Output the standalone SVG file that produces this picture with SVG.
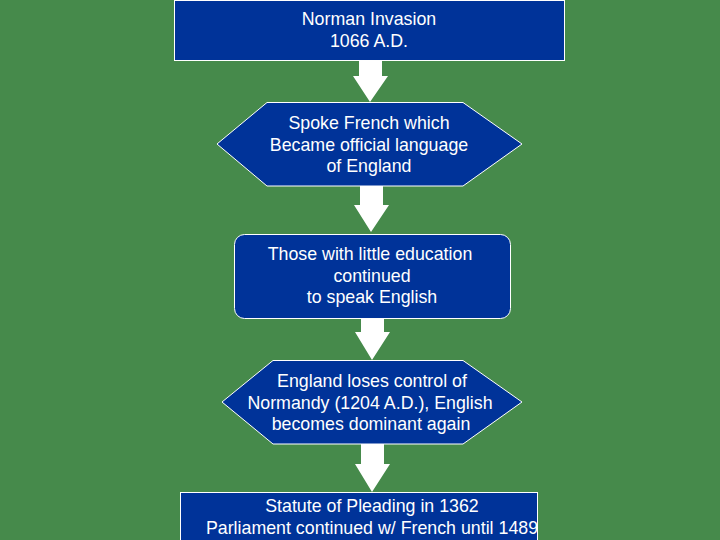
<svg xmlns="http://www.w3.org/2000/svg" width="720" height="540" viewBox="0 0 720 540">
<style>
.n{fill:#003399;stroke:#fff;stroke-width:1}
.t{font-family:"Liberation Sans",Arial,sans-serif;font-size:17.8px;fill:#fff;text-anchor:middle}
.a{fill:#fff}
</style>
<rect width="720" height="540" fill="#468A4B"/>
<g id="connectors">
<polygon class="a" points="359,60 382,60 382,76 388,76 370,102 353,76 359,76"/>
<polygon class="a" points="360,186 383,186 383,205 389,205 371,232 354,205 360,205"/>
<polygon class="a" points="361,318 384,318 384,332 390,332 372,360 355,332 361,332"/>
<polygon class="a" points="361,444 384,444 384,464 390,464 372,492 355,464 361,464"/>
</g>
<g id="n1"><rect class="n" x="174.5" y="0.5" width="390" height="60"/>
<text class="t" x="369" y="25">Norman Invasion</text><text class="t" x="369" y="47">1066 A.D.</text></g>
<g id="n2"><polygon class="n" points="267,102.5 463,102.5 522,144 463,186 267,186 217,144"/>
<text class="t" x="369" y="129">Spoke French which</text><text class="t" x="369" y="151">Became official language</text><text class="t" x="369" y="172">of England</text></g>
<g id="n3"><rect class="n" x="234.5" y="234.5" width="276" height="84" rx="10"/>
<text class="t" x="370" y="260">Those with little education</text><text class="t" x="372" y="282">continued</text><text class="t" x="372" y="303">to speak English</text></g>
<g id="n4"><polygon class="n" points="273,360.5 463,360.5 522,402 463,444 273,444 222,402"/>
<text class="t" x="372" y="387">England loses control of</text><text class="t" x="370" y="409">Normandy (1204 A.D.), English</text><text class="t" x="371" y="430">becomes dominant again</text></g>
<g id="n5"><rect class="n" x="180.5" y="492.5" width="357" height="60"/>
<text class="t" x="372" y="512">Statute of Pleading in 1362</text><text class="t" x="372" y="534">Parliament continued w/ French until 1489</text></g>
</svg>
